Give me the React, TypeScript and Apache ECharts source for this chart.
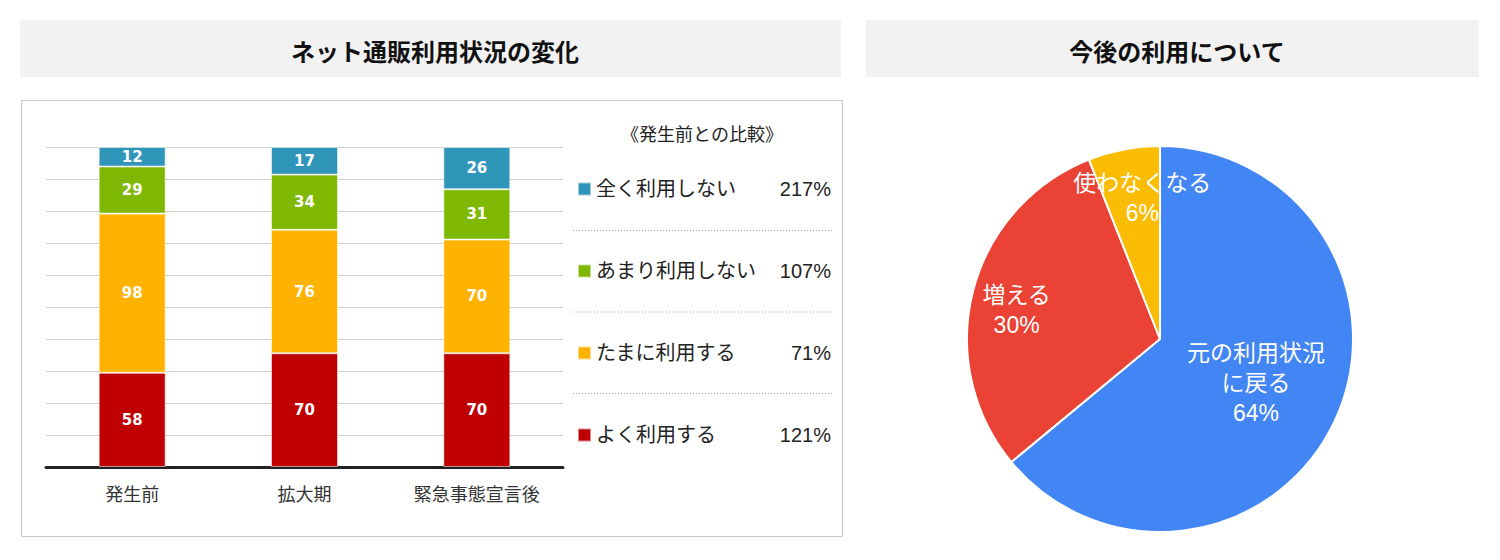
import React, { useEffect, useRef } from "react";
import * as echarts from "echarts";

// ---- data ----
const categories = ["発生前", "拡大期", "緊急事態宣言後"];
const seriesNames = ["よく利用する", "たまに利用する", "あまり利用しない", "全く利用しない"];
const oftenUse = [58, 70, 70];
const sometimesUse = [98, 76, 70];
const rarelyUse = [29, 34, 31];
const neverUse = [12, 17, 26];
const barTotal = 197;

const pieNames = ["元の利用状況に戻る", "増える", "使わなくなる"];
const pieLabelText = ["元の利用状況\nに戻る", "増える", "使わなくなる"];
const pieValues = [64, 30, 6];

const leftTitle = "ネット通販利用状況の変化";
const rightTitle = "今後の利用について";
const legendTitle = "《発生前との比較》";

// ---- styles ----
const barColors = ["#C00000", "#FFB300", "#7FB800", "#2F96B9"];
const pieColors = ["#4285F4", "#EA4335", "#FBBC04"];
const JP = "'Liberation Sans', 'Noto Sans CJK JP', sans-serif";
const pieLabelShift = [
  [6, 2],
  [-47, -4],
  [1, -43],
];

export default function App() {
  const ref = useRef<HTMLDivElement>(null);
  useEffect(() => {
    if (!ref.current) return;
    const chart = echarts.init(ref.current, null, { renderer: "svg" });
    const seriesData = [oftenUse, sometimesUse, rarelyUse, neverUse];
    const pct = (i: number) => {
      const d = seriesData[i];
      return Math.round((d[d.length - 1] / d[0]) * 100) + "%";
    };
    const option: any = {
      animation: false,
      textStyle: { fontFamily: JP },
      title: [
        {
          text: leftTitle,
          left: 430,
          top: 35,
          textAlign: "center",
          textStyle: { fontSize: 24, fontWeight: "bold", color: "#111", fontFamily: JP },
        },
        {
          text: rightTitle,
          left: 1172,
          top: 35,
          textAlign: "center",
          textStyle: { fontSize: 24, fontWeight: "bold", color: "#111", fontFamily: JP },
        },
      ],
      graphic: [
        { type: "rect", z: -10, shape: { x: 20, y: 20, width: 821, height: 57 }, style: { fill: "#F2F2F2" } },
        { type: "rect", z: -10, shape: { x: 866, y: 20, width: 613, height: 57 }, style: { fill: "#F2F2F2" } },
        {
          type: "rect",
          z: -10,
          shape: { x: 21.5, y: 100.5, width: 821, height: 436 },
          style: { fill: "#fff", stroke: "#C8C8C8", lineWidth: 1 },
        },
        {
          type: "text",
          x: 702,
          y: 135,
          style: {
            text: legendTitle,
            fontSize: 18,
            fontFamily: JP,
            fill: "#222",
            align: "center",
            verticalAlign: "middle",
          },
        },
        ...[230.5, 312, 393.5].map((y) => ({
          type: "line",
          shape: { x1: 573, y1: y, x2: 832, y2: y },
          style: { stroke: "#A0A0A0", lineWidth: 1, lineDash: [1, 2] },
        })),
      ],
      legend: {
        orient: "vertical",
        left: 577,
        top: 179,
        padding: 0,
        itemWidth: 13,
        itemHeight: 13,
        itemGap: 62,
        icon: "rect",
        selectedMode: false,
        data: [seriesNames[3], seriesNames[2], seriesNames[1], seriesNames[0]],
        formatter: (name: string) => {
          const i = seriesNames.indexOf(name);
          return `{n|${name}}{p|${pct(i)}}`;
        },
        textStyle: {
          color: "#222",
          rich: {
            n: { width: 180, fontSize: 20, lineHeight: 20, fontFamily: JP, color: "#222" },
            p: { width: 55, align: "right", fontSize: 20, lineHeight: 20, fontFamily: JP, color: "#222" },
          },
        },
      },
      grid: { left: 46, top: 147, width: 517, height: 320 },
      xAxis: {
        type: "category",
        data: categories,
        axisTick: { show: false },
        axisLine: { lineStyle: { color: "#222", width: 3 } },
        axisLabel: { color: "#333", fontSize: 18, margin: 19, fontFamily: JP },
      },
      yAxis: {
        type: "value",
        min: 0,
        max: barTotal,
        interval: barTotal / 10,
        axisLabel: { show: false },
        axisLine: { show: false },
        axisTick: { show: false },
        splitLine: { lineStyle: { color: "#CFCFCF", width: 1 } },
      },
      series: [
        ...seriesData.map((d, i) => ({
          type: "bar",
          name: seriesNames[i],
          stack: "total",
          data: d,
          barWidth: 67,
          itemStyle: { color: barColors[i], borderColor: "rgba(255,255,255,0.55)", borderWidth: 1 },
          label: {
            show: true,
            position: "inside",
            color: "#fff",
            fontWeight: "bold",
            fontSize: 15,
            fontFamily: "'DejaVu Sans', sans-serif",
          },
        })),
        {
          type: "pie",
          center: [1160, 339],
          radius: [0, 193],
          startAngle: 90,
          clockwise: true,
          data: pieValues.map((v, i) => ({ name: pieNames[i], value: v, itemStyle: { color: pieColors[i] } })),
          itemStyle: { borderColor: "#fff", borderWidth: 2 },
          label: {
            show: true,
            position: "inside",
            color: "#fff",
            fontSize: 23,
            lineHeight: 30,
            fontFamily: JP,
            formatter: (p: any) => `${pieLabelText[p.dataIndex]}\n${p.value}%`,
          },
          labelLayout: (p: any) => ({ dx: pieLabelShift[p.dataIndex][0], dy: pieLabelShift[p.dataIndex][1] }),
          labelLine: { show: false },
        },
      ],
    };
    chart.setOption(option);
    return () => chart.dispose();
  }, []);
  return (
    <div
      ref={ref}
      style={{ position: "absolute", left: 0, top: 0, width: 1500, height: 560, background: "#fff" }}
    />
  );
}
